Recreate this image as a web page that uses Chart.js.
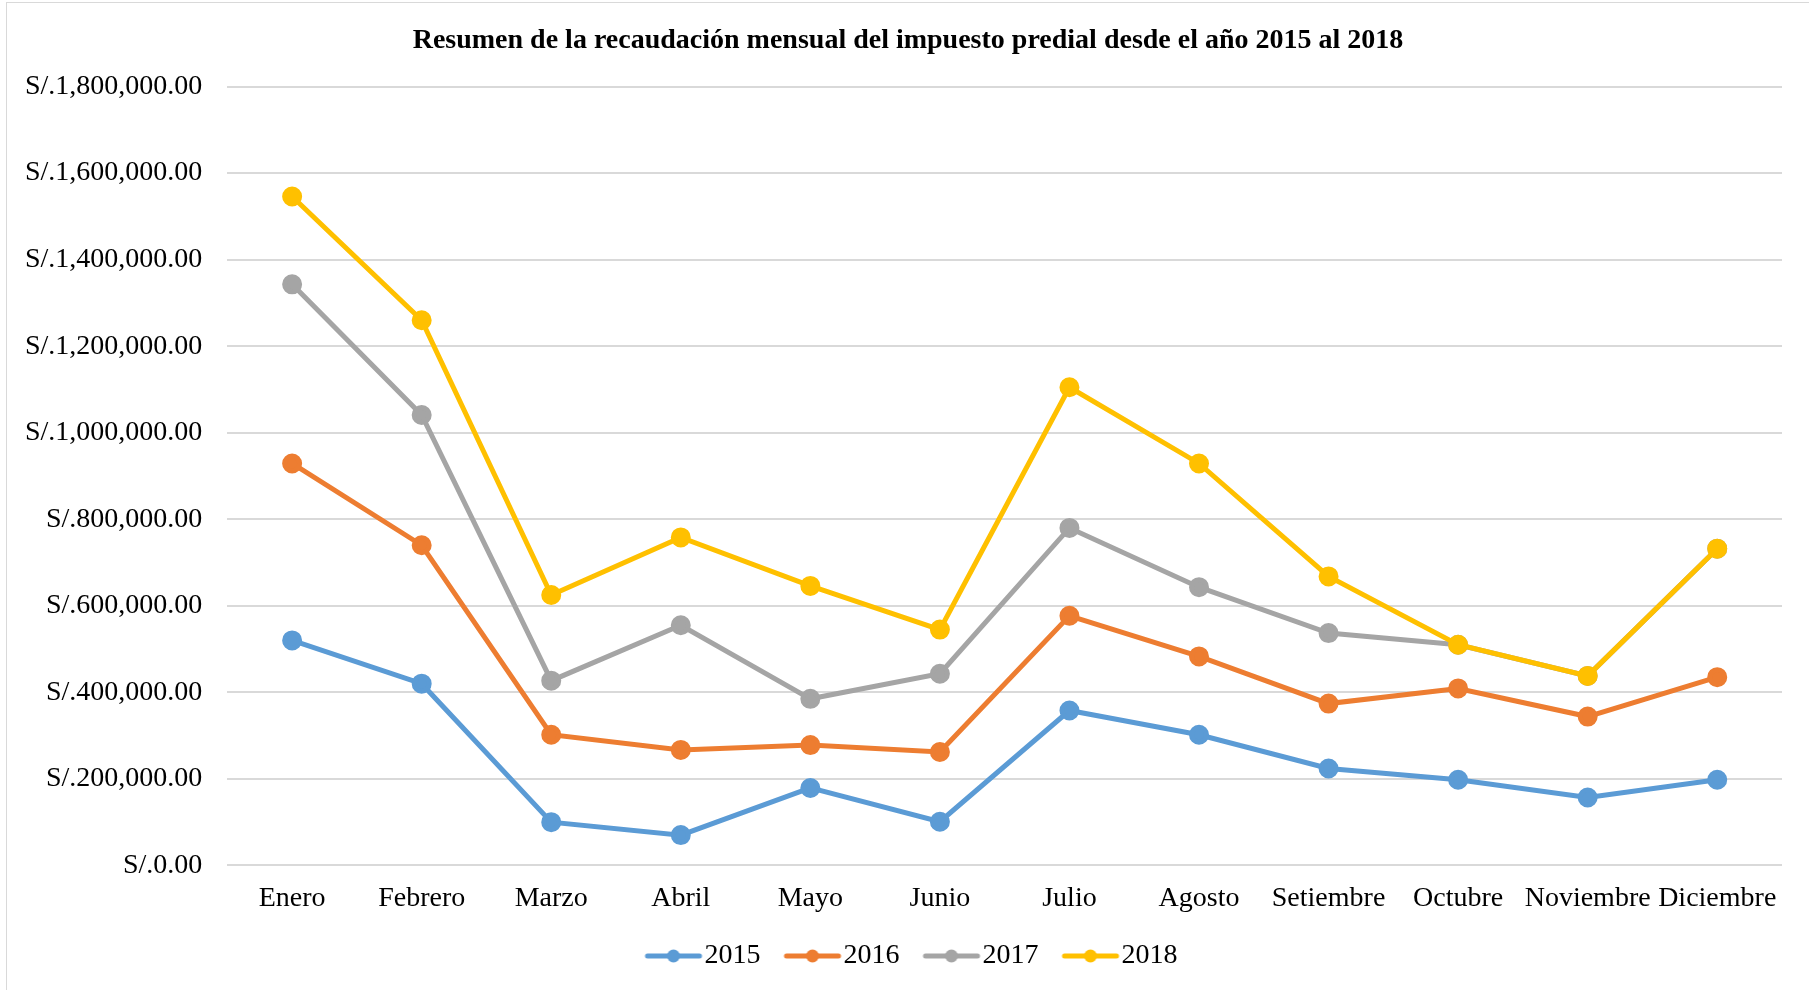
<!DOCTYPE html>
<html>
<head>
<meta charset="utf-8">
<script src="https://cdn.jsdelivr.net/npm/chart.js@4/dist/chart.umd.min.js"></script>
<style>
  html, body { margin: 0; padding: 0; background: #fff; overflow: hidden; }
  #frame { position: absolute; left: 6px; top: 2px; width: 1900px; height: 1100px; border: 1px solid #d9d9d9; }
  #wrap { position: absolute; left: 0; top: 0; width: 1809px; height: 990px; }
</style>
</head>
<body>
<div id="frame"></div>
<div id="wrap"><canvas id="lineChart"></canvas></div>
<script>
// months and yearly series (soles)
var meses = ["Enero","Febrero","Marzo","Abril","Mayo","Junio","Julio","Agosto","Setiembre","Octubre","Noviembre","Diciembre"];
var y2015 = [520000, 420000, 100000, 70000, 179000, 101000, 358000, 302000, 224000, 198000, 157000, 198000];
var y2016 = [929000, 740000, 302000, 267000, 278000, 262000, 577000, 483000, 374000, 409000, 344000, 435000];
var y2017 = [1343000, 1041000, 427000, 555000, 385000, 443000, 780000, 643000, 537000, 510000, 438000, 732000];
var y2018 = [1546000, 1260000, 625000, 758000, 646000, 545000, 1105000, 929000, 668000, 510000, 438000, 732000];
var yMax = 1800000;
var yStep = 200000;

var fuente = "'Liberation Serif', 'Times New Roman', serif";

// line+dot marker for the legend (drawn off-centre so it sits right before the text)
function marcador(color) {
    var c = document.createElement("canvas");
    c.width = 100; c.height = 16;
    var g = c.getContext("2d");
    g.strokeStyle = color;
    g.lineWidth = 5;
    g.lineCap = "round";
    g.beginPath(); g.moveTo(36, 8); g.lineTo(88, 8); g.stroke();
    g.fillStyle = color;
    g.beginPath(); g.arc(62, 8, 6.5, 0, Math.PI * 2); g.fill();
    return c;
}

function serie(label, data, color, orden) {
    return {
        label: label,
        data: data,
        order: orden,
        borderColor: color,
        backgroundColor: color,
        pointBackgroundColor: color,
        pointBorderColor: color,
        borderWidth: 5,
        pointRadius: 7.5,
        pointHoverRadius: 7.5,
        tension: 0,
        pointStyle: "circle",
        legendStyle: marcador(color)
    };
}

var lineData = {
    labels: meses,
    datasets: [
        serie("2015", y2015, "#5B9BD5", 3),
        serie("2016", y2016, "#ED7D31", 2),
        serie("2017", y2017, "#A5A5A5", 1),
        serie("2018", y2018, "#FFC000", 0)
    ]
};

// nudge title and legend a bit to the right, as in the original
var desplazar = {
    id: "desplazar",
    afterLayout: function (chart) {
        if (chart.titleBlock) { chart.titleBlock.left += 34; }
        if (chart.legend) { chart.legend.left += 28; }
    }
};

var optionsData = {
    responsive: true,
    maintainAspectRatio: false,
    animation: false,
    layout: { padding: { left: 0, right: 27, top: 0, bottom: 10 } },
    plugins: {
        title: {
            display: true,
            text: "Resumen de la recaudación mensual del impuesto predial desde el año 2015 al 2018",
            color: "#000",
            font: { family: fuente, size: 28, weight: "bold" },
            padding: { top: 24, bottom: 29 }
        },
        legend: {
            position: "bottom",
            labels: {
                color: "#000",
                font: { family: fuente, size: 28 },
                usePointStyle: true,
                pointStyleWidth: 58,
                padding: 11,
                generateLabels: function (chart) {
                    return chart.data.datasets.map(function (d, i) {
                        return {
                            text: d.label,
                            fillStyle: d.borderColor,
                            strokeStyle: d.borderColor,
                            lineWidth: 0,
                            pointStyle: d.legendStyle,
                            datasetIndex: i,
                            fontColor: "#000"
                        };
                    });
                }
            }
        },
        tooltip: { enabled: false }
    },
    scales: {
        x: {
            offset: true,
            grid: { display: false, drawTicks: false },
            border: { display: false },
            ticks: { color: "#000", font: { family: fuente, size: 28 }, padding: 16, maxRotation: 0, autoSkip: false }
        },
        y: {
            min: 0,
            max: yMax,
            grid: { color: "#d9d9d9", lineWidth: 2, drawTicks: false },
            border: { display: false },
            ticks: {
                stepSize: yStep,
                color: "#000",
                font: { family: fuente, size: 28 },
                padding: 25,
                callback: function (v) {
                    return "S/." + v.toLocaleString("en-US", { minimumFractionDigits: 2, maximumFractionDigits: 2 });
                }
            }
        }
    }
};

var ctx = document.getElementById("lineChart").getContext("2d");
var myLineChart = new Chart(ctx, {
    type: "line",
    data: lineData,
    options: optionsData,
    plugins: [desplazar]
});
</script>
</body>
</html>
